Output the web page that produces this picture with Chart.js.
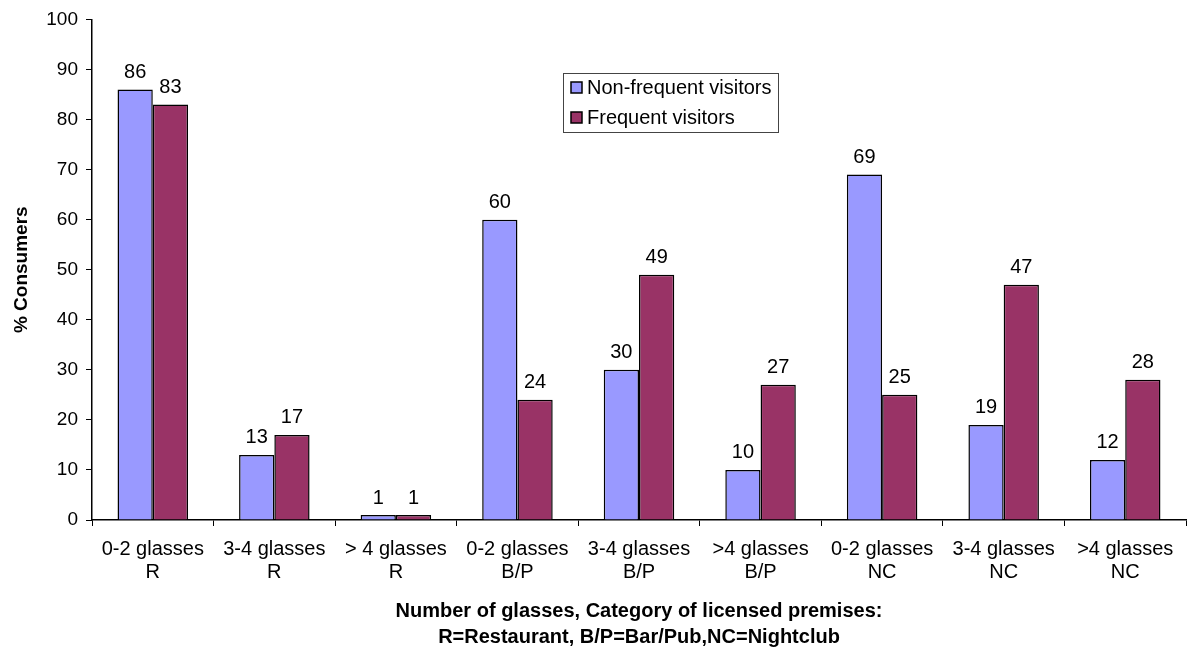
<!DOCTYPE html>
<html>
<head>
<meta charset="utf-8">
<title>Consumers by number of glasses</title>
<script src="https://cdn.jsdelivr.net/npm/chart.js@4.4.1/dist/chart.umd.min.js"></script>
<style>
    body { margin: 0; background: #fff; }
    #chart-area { width: 1187px; height: 650px; }
</style>
</head>
<body>
<div id="chart-area"><canvas id="bars" width="1187" height="650"></canvas></div>
<script>
var categories = [
    ['0-2 glasses', 'R'], ['3-4 glasses', 'R'], ['> 4 glasses', 'R'],
    ['0-2 glasses', 'B/P'], ['3-4 glasses', 'B/P'], ['>4 glasses', 'B/P'],
    ['0-2 glasses', 'NC'], ['3-4 glasses', 'NC'], ['>4 glasses', 'NC']
];
var nonFrequent = [86, 13, 1, 60, 30, 10, 69, 19, 12];
var frequent = [83, 17, 1, 24, 49, 27, 25, 47, 28];
var seriesNames = ['Non-frequent visitors', 'Frequent visitors'];
var xTitle = ['Number of glasses, Category of licensed premises:', 'R=Restaurant, B/P=Bar/Pub,NC=Nightclub'];
var yTitle = '% Consumers';

(function () {
    var fontFamily = '"Liberation Sans", Arial, sans-serif';
    var blue = '#9999ff';
    var maroon = '#993366';

    // numbers over each bar
    var valueLabels = {
        id: 'valueLabels',
        afterDatasetsDraw: function (chart) {
            var ctx = chart.ctx;
            ctx.save();
            ctx.font = '20px ' + fontFamily;
            ctx.fillStyle = '#000';
            ctx.textAlign = 'center';
            ctx.textBaseline = 'bottom';
            chart.data.datasets.forEach(function (ds, i) {
                chart.getDatasetMeta(i).data.forEach(function (bar, j) {
                    ctx.fillText(ds.data[j], bar.x, bar.y - 7);
                });
            });
            ctx.restore();
        }
    };

    // boxed legend sitting inside the plot
    var boxLegend = {
        id: 'boxLegend',
        afterDraw: function (chart) {
            var ctx = chart.ctx;
            var left = 563, top = 73, w = 215, h = 59;
            ctx.save();
            ctx.strokeStyle = '#444';
            ctx.lineWidth = 1;
            ctx.strokeRect(left + 0.5, top + 0.5, w, h);
            ctx.font = '20px ' + fontFamily;
            ctx.textBaseline = 'middle';
            chart.data.datasets.forEach(function (ds, i) {
                var cy = top + 15 + i * 30;
                ctx.fillStyle = ds.backgroundColor;
                ctx.fillRect(left + 8, cy - 6, 11, 11);
                ctx.strokeStyle = '#000';
                ctx.lineWidth = 1.5;
                ctx.strokeRect(left + 8, cy - 6, 11, 11);
                ctx.fillStyle = '#000';
                ctx.fillText(ds.label, left + 24, cy);
            });
            ctx.restore();
        }
    };

    var ctx = document.getElementById('bars').getContext('2d');
    var chart = new Chart(ctx, {
        type: 'bar',
        data: {
            labels: categories,
            datasets: [{
                label: seriesNames[0],
                data: nonFrequent,
                backgroundColor: blue,
                borderColor: '#000',
                borderWidth: 1.5
            }, {
                label: seriesNames[1],
                data: frequent,
                backgroundColor: maroon,
                borderColor: '#000',
                borderWidth: 1.5
            }]
        },
        options: {
            responsive: false,
            animation: false,
            categoryPercentage: 0.58,
            barPercentage: 1.0,
            layout: {
                padding: { top: 18, right: 1, left: 0, bottom: 0 }
            },
            plugins: {
                legend: { display: false },
                tooltip: { enabled: false }
            },
            scales: {
                x: {
                    grid: {
                        offset: true,
                        drawOnChartArea: false,
                        drawTicks: true,
                        tickLength: 6,
                        color: '#000'
                    },
                    border: { color: '#000', width: 1.5 },
                    ticks: {
                        color: '#000',
                        padding: 12,
                        maxRotation: 0,
                        font: { family: fontFamily, size: 20, lineHeight: 1.15 }
                    },
                    title: {
                        display: true,
                        text: xTitle,
                        color: '#000',
                        padding: { top: 0, bottom: 0 },
                        font: { family: fontFamily, size: 20, weight: 'bold', lineHeight: 1.3 }
                    },
                    afterFit: function (scale) {
                        scale.height = 130;
                    }
                },
                y: {
                    min: 0,
                    max: 100,
                    grid: {
                        drawOnChartArea: false,
                        drawTicks: true,
                        tickLength: 6,
                        color: '#000'
                    },
                    border: { color: '#000', width: 1.5 },
                    ticks: {
                        stepSize: 10,
                        color: '#000',
                        padding: 8,
                        font: { family: fontFamily, size: 19 }
                    },
                    title: {
                        display: true,
                        text: yTitle,
                        color: '#000',
                        padding: { top: 10, bottom: 0 },
                        font: { family: fontFamily, size: 19, weight: 'bold' }
                    },
                    afterFit: function (scale) {
                        scale.width = 92;
                    }
                }
            }
        },
        plugins: [valueLabels, boxLegend]
    });
})();
</script>
</body>
</html>
